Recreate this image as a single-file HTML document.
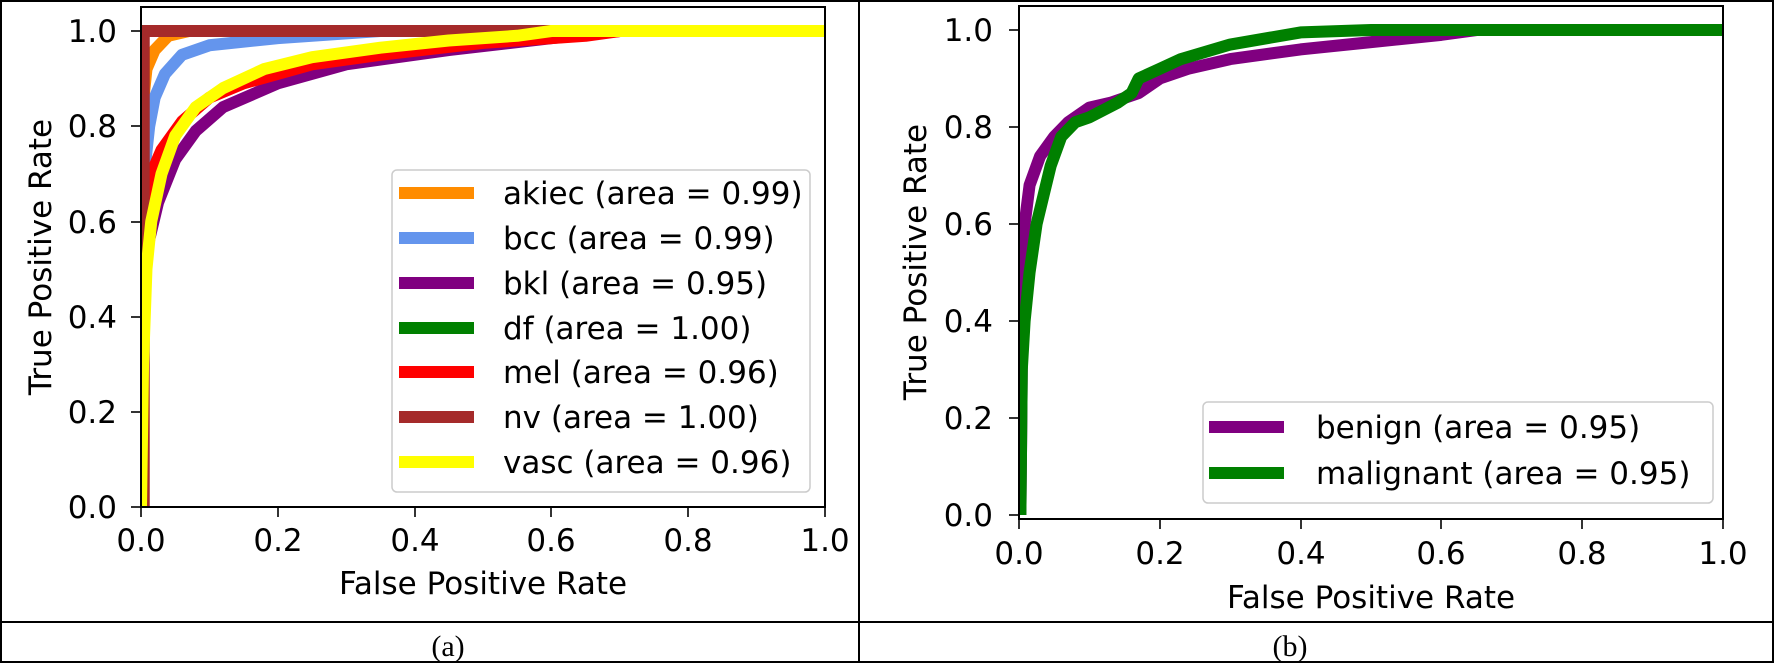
<!DOCTYPE html>
<html><head><meta charset="utf-8"><style>
html,body{margin:0;padding:0;background:#fff}
svg{display:block}
.t{font-family:"DejaVu Sans","Liberation Sans",sans-serif;font-size:31px;fill:#000}
.c{font-family:"Liberation Serif",serif;font-size:30px;fill:#000}
</style></head><body>
<svg width="1774" height="664" viewBox="0 0 1774 664" xmlns="http://www.w3.org/2000/svg">
<defs>
<clipPath id="ca"><rect x="141" y="7" width="684" height="500"/></clipPath>
<clipPath id="cb"><rect x="1019" y="6" width="704" height="513"/></clipPath>
</defs>
<rect x="1" y="1" width="1772" height="661" fill="none" stroke="#000" stroke-width="2"/>
<line x1="859" y1="1" x2="859" y2="662" stroke="#000" stroke-width="2"/>
<line x1="1" y1="622" x2="1773" y2="622" stroke="#000" stroke-width="2"/>
<text class="c" x="448" y="656" text-anchor="middle">(a)</text>
<text class="c" x="1290" y="656" text-anchor="middle">(b)</text>

<g clip-path="url(#ca)">
<g transform="translate(141,507) scale(684,-476)" fill="none" stroke-linejoin="round" stroke-linecap="butt">
<polyline vector-effect="non-scaling-stroke" stroke="#ff8c00" stroke-width="12" points="0,0 0,0.62 0.003,0.85 0.008,0.92 0.02,0.96 0.04,0.99 0.07,1 1,1"/>
<polyline vector-effect="non-scaling-stroke" stroke="#6495ed" stroke-width="12" points="0,0 0,0.55 0.006,0.72 0.012,0.8 0.02,0.86 0.035,0.91 0.06,0.95 0.1,0.97 0.2,0.985 0.35,1 1,1"/>
<polyline vector-effect="non-scaling-stroke" stroke="#800080" stroke-width="12" points="0,0 0,0.45 0.01,0.55 0.025,0.64 0.05,0.73 0.08,0.79 0.12,0.84 0.2,0.89 0.3,0.93 0.45,0.96 0.6,0.985 0.7,1 1,1"/>
<polyline vector-effect="non-scaling-stroke" stroke="#008000" stroke-width="12" points="0,0 0,1 1,1"/>
<polyline vector-effect="non-scaling-stroke" stroke="#ff0000" stroke-width="12" points="0,0 0,0.5 0.005,0.62 0.015,0.7 0.03,0.75 0.06,0.81 0.1,0.86 0.15,0.89 0.25,0.93 0.35,0.95 0.5,0.975 0.65,0.99 0.7,1 1,1"/>
<polyline vector-effect="non-scaling-stroke" stroke="#a52a2a" stroke-width="12" points="0.004,0 0.004,1 1,1"/>
<polyline vector-effect="non-scaling-stroke" stroke="#ffff00" stroke-width="12" points="0,0 0.003,0.3 0.008,0.5 0.015,0.6 0.03,0.7 0.05,0.78 0.08,0.84 0.12,0.88 0.18,0.92 0.25,0.945 0.35,0.965 0.45,0.98 0.55,0.99 0.6,1 1,1"/>
</g>
</g>
<rect x="141" y="7" width="684" height="500" fill="none" stroke="#000" stroke-width="2"/>
<g stroke="#000" stroke-width="1.6">
<line x1="131" y1="507" x2="141" y2="507"/><line x1="131" y1="412" x2="141" y2="412"/><line x1="131" y1="317" x2="141" y2="317"/><line x1="131" y1="222" x2="141" y2="222"/><line x1="131" y1="126" x2="141" y2="126"/><line x1="131" y1="31" x2="141" y2="31"/>
<line x1="141" y1="507" x2="141" y2="517"/><line x1="278" y1="507" x2="278" y2="517"/><line x1="415" y1="507" x2="415" y2="517"/><line x1="551" y1="507" x2="551" y2="517"/><line x1="688" y1="507" x2="688" y2="517"/><line x1="825" y1="507" x2="825" y2="517"/>
</g>
<g class="t" text-anchor="end">
<text x="117" y="518">0.0</text><text x="117" y="423">0.2</text><text x="117" y="328">0.4</text><text x="117" y="233">0.6</text><text x="117" y="137">0.8</text><text x="117" y="42">1.0</text>
</g>
<g class="t" text-anchor="middle">
<text x="141" y="551">0.0</text><text x="278" y="551">0.2</text><text x="415" y="551">0.4</text><text x="551" y="551">0.6</text><text x="688" y="551">0.8</text><text x="825" y="551">1.0</text>
<text x="483" y="594">False Positive Rate</text>
<text transform="translate(51,257) rotate(-90)">True Positive Rate</text>
</g>
<rect x="392" y="170" width="418" height="322" rx="5" fill="#fff" fill-opacity="0.8" stroke="#ccc" stroke-width="1.5"/>
<g stroke-width="12">
<line x1="399" y1="193" x2="474" y2="193" stroke="#ff8c00"/>
<line x1="399" y1="238" x2="474" y2="238" stroke="#6495ed"/>
<line x1="399" y1="283" x2="474" y2="283" stroke="#800080"/>
<line x1="399" y1="328" x2="474" y2="328" stroke="#008000"/>
<line x1="399" y1="372" x2="474" y2="372" stroke="#ff0000"/>
<line x1="399" y1="417" x2="474" y2="417" stroke="#a52a2a"/>
<line x1="399" y1="462" x2="474" y2="462" stroke="#ffff00"/>
</g>
<g class="t">
<text x="503" y="204">akiec (area = 0.99)</text>
<text x="503" y="249">bcc (area = 0.99)</text>
<text x="503" y="294">bkl (area = 0.95)</text>
<text x="503" y="339">df (area = 1.00)</text>
<text x="503" y="383">mel (area = 0.96)</text>
<text x="503" y="428">nv (area = 1.00)</text>
<text x="503" y="473">vasc (area = 0.96)</text>
</g>

<g clip-path="url(#cb)">
<g transform="translate(1019,515) scale(704,-485)" fill="none" stroke-linejoin="round">
<polyline vector-effect="non-scaling-stroke" stroke="#800080" stroke-width="12" points="0.002,0 0.003,0.15 0.005,0.45 0.008,0.6 0.015,0.68 0.03,0.74 0.05,0.78 0.07,0.81 0.1,0.84 0.13,0.85 0.17,0.87 0.2,0.9 0.24,0.92 0.3,0.94 0.4,0.96 0.5,0.975 0.6,0.99 0.65,1 1,1"/>
<polyline vector-effect="non-scaling-stroke" stroke="#008000" stroke-width="12" points="0.002,0 0.004,0.3 0.008,0.4 0.015,0.5 0.025,0.6 0.035,0.66 0.045,0.72 0.06,0.78 0.08,0.81 0.1,0.82 0.14,0.85 0.16,0.87 0.17,0.9 0.2,0.92 0.23,0.94 0.3,0.97 0.4,0.995 0.5,1 1,1"/>
</g>
</g>
<rect x="1019" y="6" width="704" height="513" fill="none" stroke="#000" stroke-width="2"/>
<g stroke="#000" stroke-width="1.6">
<line x1="1009" y1="515" x2="1019" y2="515"/><line x1="1009" y1="418" x2="1019" y2="418"/><line x1="1009" y1="321" x2="1019" y2="321"/><line x1="1009" y1="224" x2="1019" y2="224"/><line x1="1009" y1="127" x2="1019" y2="127"/><line x1="1009" y1="30" x2="1019" y2="30"/>
<line x1="1019" y1="519" x2="1019" y2="529"/><line x1="1160" y1="519" x2="1160" y2="529"/><line x1="1301" y1="519" x2="1301" y2="529"/><line x1="1441" y1="519" x2="1441" y2="529"/><line x1="1582" y1="519" x2="1582" y2="529"/><line x1="1723" y1="519" x2="1723" y2="529"/>
</g>
<g class="t" text-anchor="end">
<text x="993" y="526">0.0</text><text x="993" y="429">0.2</text><text x="993" y="332">0.4</text><text x="993" y="235">0.6</text><text x="993" y="138">0.8</text><text x="993" y="41">1.0</text>
</g>
<g class="t" text-anchor="middle">
<text x="1019" y="564">0.0</text><text x="1160" y="564">0.2</text><text x="1301" y="564">0.4</text><text x="1441" y="564">0.6</text><text x="1582" y="564">0.8</text><text x="1723" y="564">1.0</text>
<text x="1371" y="608">False Positive Rate</text>
<text transform="translate(926,262) rotate(-90)">True Positive Rate</text>
</g>
<rect x="1203" y="402" width="510" height="101" rx="5" fill="#fff" fill-opacity="0.8" stroke="#ccc" stroke-width="1.5"/>
<g stroke-width="12">
<line x1="1209" y1="427" x2="1284" y2="427" stroke="#800080"/>
<line x1="1209" y1="473" x2="1284" y2="473" stroke="#008000"/>
</g>
<g class="t">
<text x="1316" y="438">benign (area = 0.95)</text>
<text x="1316" y="484">malignant (area = 0.95)</text>
</g>
</svg>
</body></html>
